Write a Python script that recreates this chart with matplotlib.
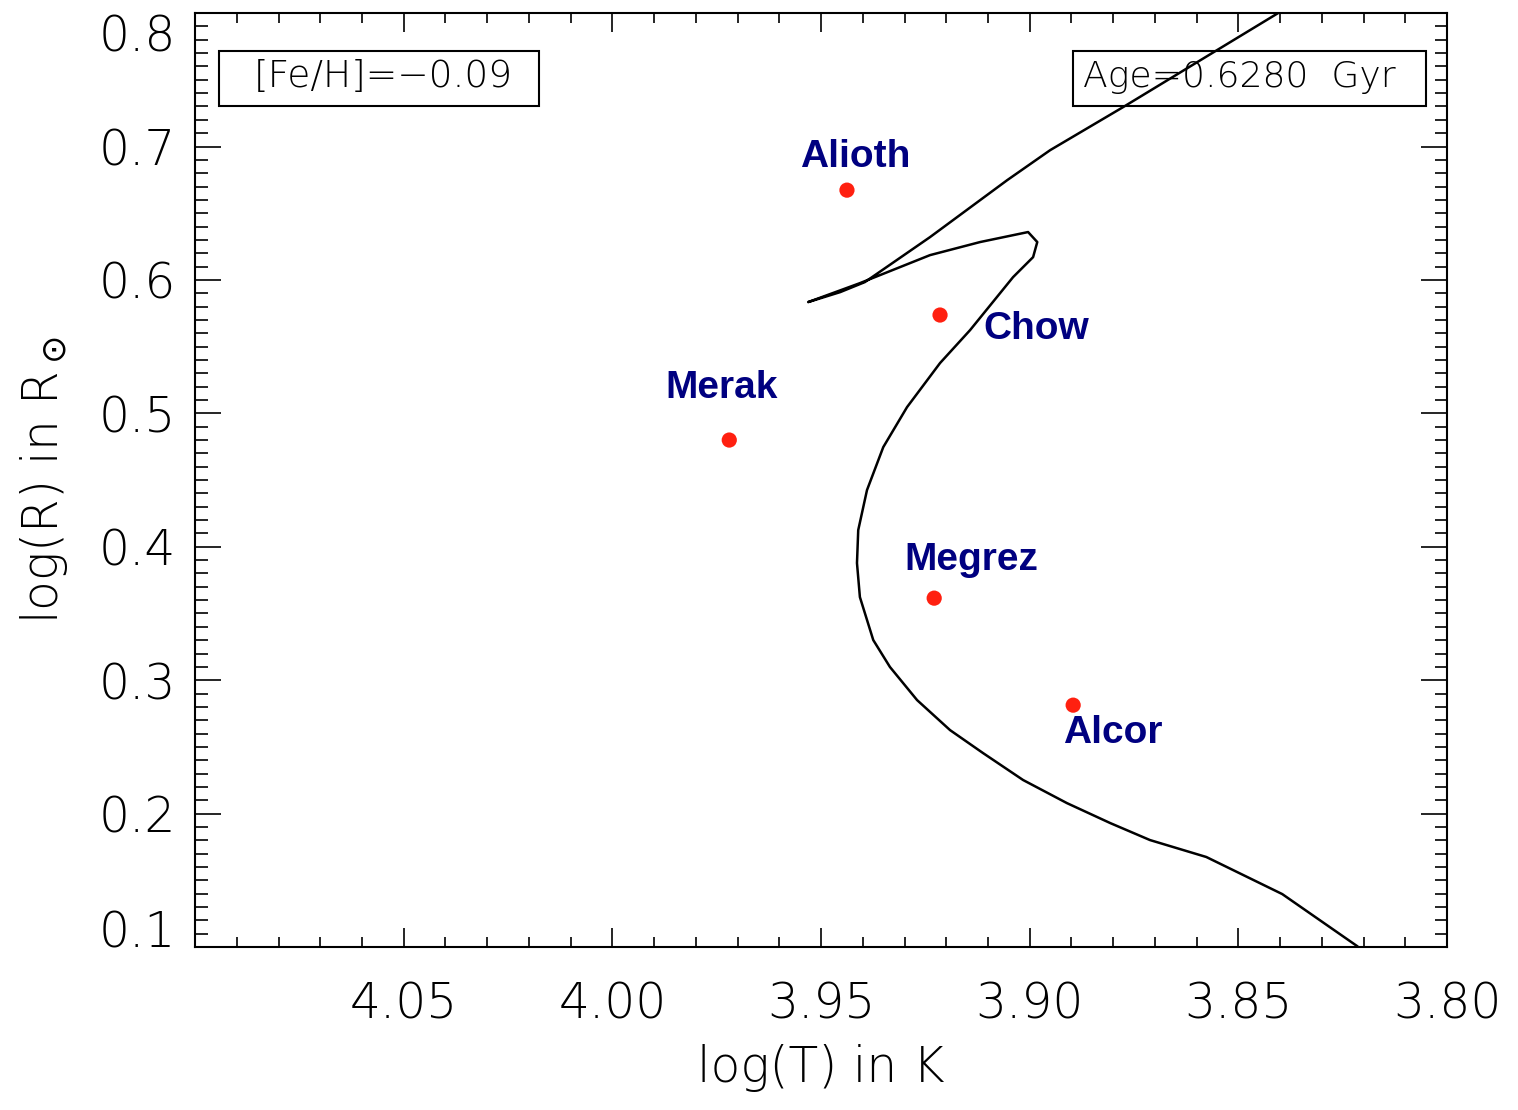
import matplotlib.pyplot as plt
from matplotlib.patches import Rectangle
from matplotlib.ticker import MultipleLocator

# isochrone track (log T, log R)
iso_logt = [3.8216, 3.8395, 3.8577, 3.8712, 3.8807, 3.8911, 3.9016, 3.9112,
            3.9191, 3.9270, 3.9335, 3.9375, 3.9407, 3.9414, 3.9411, 3.9390,
            3.9351, 3.9294, 3.9215, 3.9143, 3.9040, 3.8992, 3.8982, 3.9004,
            3.9119, 3.9239, 3.9359, 3.9407, 3.9531, 3.9454, 3.9395, 3.9239,
            3.9054, 3.8951, 3.8776, 3.8551, 3.8405, 3.8304]
iso_logr = [0.1008, 0.1397, 0.1675, 0.1802, 0.1929, 0.2079, 0.2252, 0.2454,
            0.2626, 0.2851, 0.3099, 0.3301, 0.3623, 0.3878, 0.4125, 0.4425,
            0.4747, 0.5047, 0.5377, 0.5624, 0.6021, 0.6171, 0.6284, 0.6359,
            0.6284, 0.6186, 0.6036, 0.5976, 0.5834, 0.5909, 0.5984, 0.6321,
            0.6748, 0.6973, 0.7296, 0.7723, 0.8000, 0.8187]

# stars
star_names = ['Alioth', 'Chow', 'Merak', 'Megrez', 'Alcor']
star_logt = [3.9438, 3.9215, 3.9720, 3.9229, 3.8896]
star_logr = [0.6673, 0.5737, 0.4800, 0.3615, 0.2813]

x_ticks = [4.05, 4.00, 3.95, 3.90, 3.85, 3.80]
x_labels = ['4.05', '4.00', '3.95', '3.90', '3.85', '3.80']
y_ticks = [0.1, 0.2, 0.3, 0.4, 0.5, 0.6, 0.7, 0.8]
y_labels = ['0.1', '0.2', '0.3', '0.4', '0.5', '0.6', '0.7', '0.8']

feh_text = '[Fe/H]=\u22120.09'
age_text = 'Age=0.6280  Gyr'

axis_font = dict(family='DejaVu Sans', weight=200)

fig = plt.figure(figsize=(15.18, 11.10), dpi=100)
ax = fig.add_axes([0.1285, 0.1468, 0.8248, 0.8414])

ax.plot(iso_logt, iso_logr, color='black', lw=1.8, solid_joinstyle='round')
ax.scatter(star_logt, star_logr, s=120, color='#ff2010', edgecolors='none', zorder=3)

# label offsets in pixels from each star
offsets = [(8, 33), (96, -14), (-8, 52), (37, 38), (40, -28)]
for name, t, r, off in zip(star_names, star_logt, star_logr, offsets):
    ax.annotate(name, (t, r), xytext=off, textcoords='offset pixels',
                ha='center', va='center', fontsize=28, fontweight='bold',
                color='#000080', family='Liberation Sans')

ax.set_xlim(4.10, 3.80)
ax.set_ylim(0.1, 0.8)
ax.set_xticks(x_ticks)
ax.set_xticklabels(x_labels, fontdict=axis_font)
ax.set_yticks(y_ticks)
ax.set_yticklabels(y_labels, fontdict=axis_font)
ax.xaxis.set_minor_locator(MultipleLocator(0.01))
ax.yaxis.set_minor_locator(MultipleLocator(0.01))

ax.tick_params(which='both', direction='in', top=True, right=True, width=1.2,
               labelsize=35)
ax.tick_params(axis='x', which='major', length=14, pad=24)
ax.tick_params(axis='x', which='minor', length=7)
ax.tick_params(axis='y', which='major', length=19, pad=14)
ax.tick_params(axis='y', which='minor', length=9)
for s in ax.spines.values():
    s.set_linewidth(1.5)

# IDL style: keep the end labels inside the frame
ylabs = ax.get_yticklabels()
ylabs[0].set_va('baseline')
ylabs[-1].set_va('top')

ax.set_xlabel('log(T) in K', fontsize=35, labelpad=11, **axis_font)
ax.set_ylabel(r'log(R) in R$_\odot$', fontsize=35, labelpad=20, **axis_font)

# info boxes
ax.add_patch(Rectangle((0.0192, 0.9004), 0.2556, 0.0589, transform=ax.transAxes,
                       fill=False, ec='black', lw=1.5))
ax.text(0.0471, 0.9208, feh_text, transform=ax.transAxes, fontsize=27,
        va='baseline', ha='left', **axis_font)
ax.add_patch(Rectangle((0.7013, 0.9004), 0.2819, 0.0589, transform=ax.transAxes,
                       fill=False, ec='black', lw=1.5))
ax.text(0.7093, 0.9208, age_text, transform=ax.transAxes, fontsize=26,
        va='baseline', ha='left', **axis_font)

fig.savefig('out.png', dpi=100)
